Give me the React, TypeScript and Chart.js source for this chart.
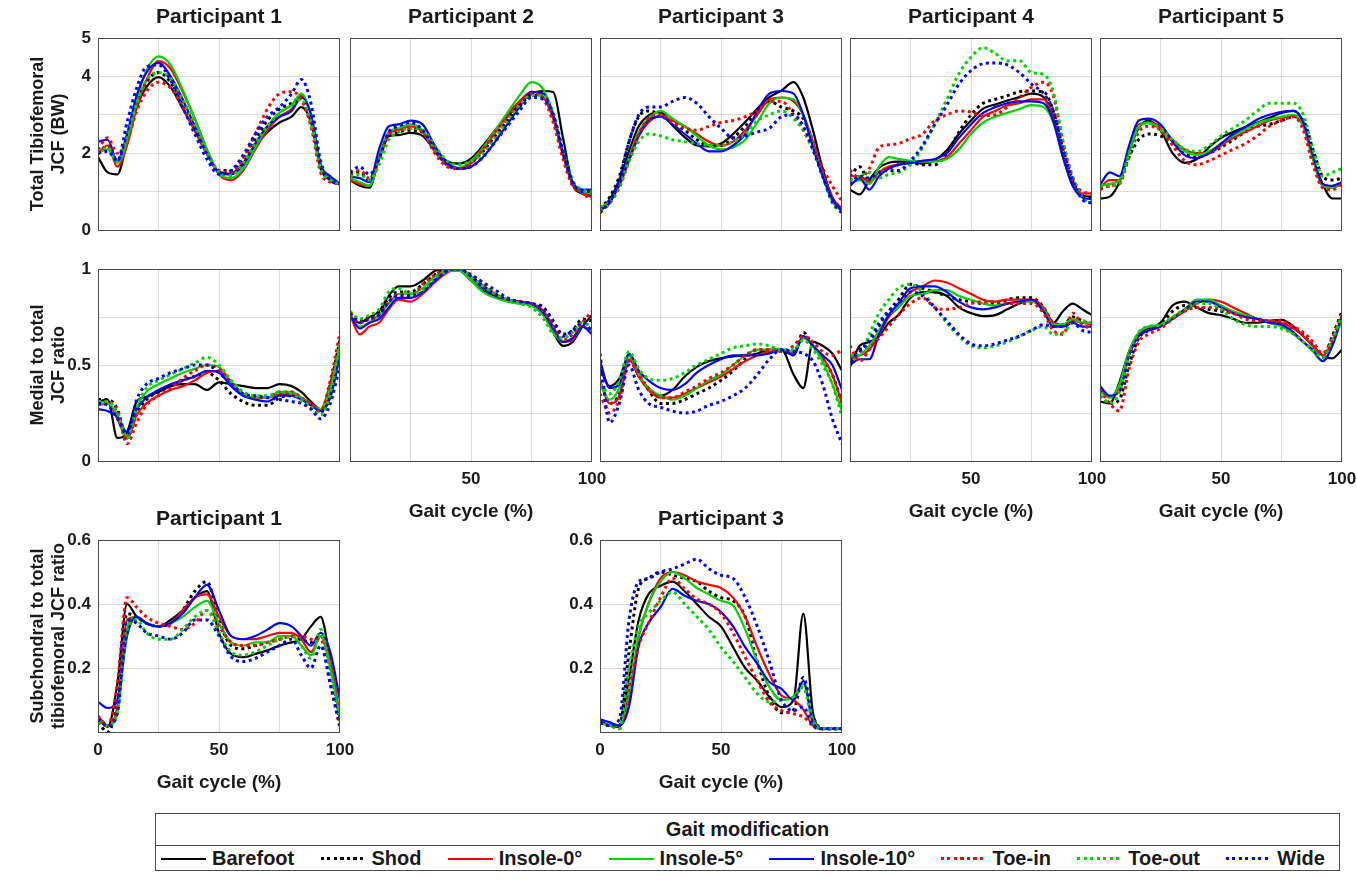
import React, { useEffect, useRef } from 'react';
import { Chart, registerables } from 'chart.js';

Chart.register(...registerables);

// ---------------- data ----------------
const GAIT_X = [0, 4, 8, 12, 16, 20, 25, 30, 35, 40, 45, 50, 55, 60, 65, 70, 75, 80, 84, 88, 92, 96, 100];

const MODS = ['Barefoot', 'Shod', 'Insole-0°', 'Insole-5°', 'Insole-10°', 'Toe-in', 'Toe-out', 'Wide'];
const MOD_COLORS = ['#000000', '#000000', '#ff0000', '#00d400', '#0000ff', '#ff0000', '#00d400', '#0000ff'];
const MOD_DOTTED = [false, true, false, false, false, true, true, true];

const PARTICIPANTS = ['Participant 1', 'Participant 2', 'Participant 3', 'Participant 4', 'Participant 5'];

const TOTAL_TICKS = [0, 2, 4, 5];
const MEDIAL_TICKS = [0, 0.5, 1];
const SUB_TICKS = [0.2, 0.4, 0.6];
const ROW2_X_TICKS = [50, 100];
const ROW3_X_TICKS = [0, 50, 100];

// Total tibiofemoral JCF (BW) — rows in MODS order
const TOTAL_P1 = [
  [1.9, 1.5, 1.45, 2.3, 3.2, 3.72, 3.98, 3.72, 3.16, 2.6, 2.0, 1.52, 1.47, 1.75, 2.2, 2.55, 2.8, 2.95, 3.2, 2.8, 1.6, 1.3, 1.2],
  [2.0, 2.2, 1.8, 2.4, 3.3, 3.85, 4.1, 3.85, 3.3, 2.7, 2.05, 1.55, 1.55, 1.85, 2.35, 2.85, 3.15, 3.3, 3.45, 2.9, 1.65, 1.3, 1.2],
  [2.0, 2.2, 1.65, 2.2, 3.2, 3.9, 4.4, 4.2, 3.6, 2.9, 2.1, 1.45, 1.3, 1.55, 2.1, 2.6, 2.95, 3.15, 3.5, 3.0, 1.7, 1.35, 1.2],
  [2.0, 2.1, 1.75, 2.3, 3.4, 4.15, 4.52, 4.3, 3.65, 2.9, 2.1, 1.45, 1.35, 1.6, 2.15, 2.7, 3.05, 3.25, 3.55, 3.0, 1.7, 1.35, 1.2],
  [2.3, 2.35, 1.8, 2.5, 3.5, 4.1, 4.35, 4.0, 3.4, 2.7, 2.0, 1.5, 1.45, 1.7, 2.25, 2.7, 2.95, 3.1, 3.45, 3.0, 1.7, 1.4, 1.2],
  [2.1, 2.4, 2.0, 2.3, 3.1, 3.6, 3.85, 3.7, 3.2, 2.6, 2.0, 1.55, 1.5, 1.85, 2.5, 3.15, 3.55, 3.6, 3.4, 2.7, 1.5, 1.25, 1.2],
  [2.0, 2.15, 1.8, 2.4, 3.3, 3.9, 4.1, 3.95, 3.4, 2.75, 2.05, 1.5, 1.42, 1.75, 2.25, 2.7, 3.05, 3.25, 3.4, 2.8, 1.6, 1.3, 1.2],
  [2.0, 2.05, 1.8, 2.8, 3.7, 4.25, 4.3, 3.9, 3.2, 2.5, 1.85, 1.45, 1.55, 1.95, 2.5, 2.95, 3.2, 3.55, 3.92, 3.3, 1.8, 1.3, 1.2],
];
const TOTAL_P2 = [
  [1.3, 1.15, 1.1, 1.85, 2.44, 2.47, 2.53, 2.45, 2.08, 1.8, 1.73, 1.86, 2.2, 2.6, 2.96, 3.27, 3.55, 3.62, 3.59, 2.4, 1.2, 0.95, 0.89],
  [1.45, 1.5, 1.3, 1.9, 2.45, 2.55, 2.6, 2.55, 2.15, 1.75, 1.6, 1.75, 2.05, 2.45, 2.85, 3.2, 3.5, 3.45, 2.95, 2.0, 1.2, 0.95, 0.9],
  [1.3, 1.2, 1.15, 1.85, 2.5, 2.6, 2.7, 2.55, 2.05, 1.7, 1.6, 1.75, 2.1, 2.55, 3.0, 3.35, 3.6, 3.45, 2.9, 1.95, 1.2, 0.95, 0.85],
  [1.35, 1.25, 1.15, 1.9, 2.55, 2.65, 2.75, 2.6, 2.1, 1.75, 1.62, 1.8, 2.15, 2.6, 3.05, 3.5, 3.85, 3.65, 3.0, 2.0, 1.25, 1.0, 0.95],
  [1.4, 1.35, 1.25, 2.1, 2.7, 2.75, 2.85, 2.75, 2.2, 1.75, 1.6, 1.65, 1.9, 2.3, 2.75, 3.2, 3.6, 3.55, 3.0, 2.0, 1.25, 1.05, 1.05],
  [1.5, 1.55, 1.35, 1.85, 2.5, 2.6, 2.65, 2.55, 2.0, 1.65, 1.6, 1.75, 2.1, 2.55, 2.95, 3.3, 3.55, 3.4, 2.8, 1.85, 1.15, 0.95, 0.8],
  [1.4, 1.45, 1.3, 1.7, 2.35, 2.55, 2.65, 2.6, 2.2, 1.8, 1.7, 1.8, 2.0, 2.4, 2.85, 3.25, 3.5, 3.5, 3.05, 2.1, 1.3, 1.05, 1.0],
  [1.5, 1.65, 1.45, 1.85, 2.55, 2.7, 2.8, 2.6, 2.1, 1.7, 1.6, 1.65, 1.9, 2.3, 2.7, 3.1, 3.45, 3.4, 3.0, 2.05, 1.25, 1.0, 1.0],
];
const TOTAL_P3 = [
  [0.52, 0.8, 1.3, 2.05, 2.7, 2.98, 3.07, 2.72, 2.42, 2.2, 2.18, 2.25, 2.5, 2.81, 3.16, 3.46, 3.63, 3.85, 3.45, 2.6, 1.6, 0.85, 0.5],
  [0.55, 0.85, 1.4, 2.3, 2.95, 3.1, 3.0, 2.8, 2.6, 2.35, 2.2, 2.2, 2.4, 2.7, 3.1, 3.35, 3.2, 3.1, 2.9, 2.3, 1.5, 0.8, 0.5],
  [0.5, 0.75, 1.15, 1.8, 2.45, 2.8, 2.98, 2.85, 2.7, 2.5, 2.3, 2.2, 2.3, 2.6, 3.0, 3.4, 3.45, 3.35, 3.0, 2.3, 1.5, 0.85, 0.55],
  [0.6, 0.75, 1.2, 1.9, 2.55, 2.9, 3.1, 2.9, 2.7, 2.45, 2.2, 2.1, 2.15, 2.35, 2.8, 3.3, 3.45, 3.4, 3.0, 2.2, 1.4, 0.75, 0.5],
  [0.5, 0.7, 1.2, 1.85, 2.45, 2.85, 2.95, 2.75, 2.5, 2.25, 2.05, 2.05, 2.2, 2.5, 3.1, 3.55, 3.62, 3.55, 3.0, 2.15, 1.4, 0.8, 0.5],
  [0.5, 0.7, 1.1, 1.8, 2.5, 2.9, 3.0, 2.8, 2.65, 2.6, 2.7, 2.8, 2.85, 2.95, 3.1, 3.35, 3.35, 3.0, 2.6, 2.1, 1.6, 1.15, 0.75],
  [0.5, 0.7, 1.15, 1.8, 2.3, 2.5, 2.45, 2.35, 2.3, 2.25, 2.2, 2.2, 2.3, 2.5, 2.85, 3.0, 3.1, 2.9, 2.6, 2.1, 1.4, 0.7, 0.45],
  [0.45, 0.75, 1.3, 2.3, 3.0, 3.2, 3.2, 3.35, 3.45, 3.3, 2.95, 2.65, 2.4, 2.45, 2.55, 2.65, 2.95, 3.0, 2.7, 2.1, 1.4, 0.75, 0.45],
];
const TOTAL_P4 = [
  [1.05, 0.93, 1.3, 1.62, 1.75, 1.78, 1.78, 1.73, 1.82, 2.08, 2.5, 2.85, 3.16, 3.27, 3.37, 3.46, 3.55, 3.46, 2.9, 1.9, 1.25, 0.9, 0.87],
  [1.4, 1.65, 1.25, 1.5, 1.6, 1.7, 1.75, 1.7, 1.7, 2.0, 2.55, 3.0, 3.3, 3.4, 3.5, 3.6, 3.62, 3.6, 3.1, 2.1, 1.3, 0.9, 0.85],
  [1.4, 1.4, 1.25, 1.5, 1.65, 1.7, 1.75, 1.8, 1.8, 1.9, 2.25, 2.6, 2.95, 3.1, 3.25, 3.3, 3.4, 3.4, 2.9, 1.95, 1.2, 0.95, 0.95],
  [1.2, 1.3, 1.2, 1.65, 1.9, 1.85, 1.8, 1.78, 1.78, 1.85, 2.1, 2.5, 2.8, 2.95, 3.05, 3.15, 3.25, 3.2, 2.8, 1.9, 1.15, 0.85, 0.8],
  [1.15, 1.35, 1.05, 1.4, 1.6, 1.7, 1.75, 1.8, 1.85, 2.0, 2.4, 2.75, 3.05, 3.2, 3.3, 3.35, 3.35, 3.3, 2.85, 1.9, 1.15, 0.85, 0.8],
  [1.56, 1.35, 1.6, 2.15, 2.22, 2.25, 2.38, 2.5, 2.85, 3.0, 3.1, 3.07, 2.98, 3.0, 3.2, 3.45, 3.72, 3.85, 3.5, 2.3, 1.35, 1.0, 0.95],
  [1.3, 1.4, 1.5, 1.35, 1.45, 1.5, 1.7, 2.15, 2.75, 3.4, 4.07, 4.5, 4.75, 4.6, 4.4, 4.41, 4.1, 4.05, 3.6, 2.3, 1.4, 0.85, 0.7],
  [1.2, 1.4, 1.35, 1.5, 1.55, 1.55, 1.8, 2.2, 2.75, 3.25, 3.8, 4.15, 4.33, 4.35, 4.3, 4.1, 3.8, 3.55, 3.1, 2.1, 1.3, 0.8, 0.7],
];
const TOTAL_P5 = [
  [0.82, 0.87, 1.25, 2.05, 2.65, 2.85, 2.6, 2.0, 1.75, 1.85, 2.15, 2.4, 2.55, 2.68, 2.8, 2.92, 3.05, 3.1, 2.8, 1.9, 1.2, 0.82, 0.82],
  [1.1, 1.15, 1.25, 1.9, 2.35, 2.5, 2.45, 2.25, 2.0, 1.9, 2.0, 2.15, 2.35, 2.55, 2.7, 2.75, 2.85, 2.95, 2.85, 2.1, 1.4, 1.3, 1.35],
  [1.1, 1.3, 1.3, 2.1, 2.75, 2.8, 2.7, 2.35, 2.1, 2.0, 2.0, 2.2, 2.4, 2.55, 2.7, 2.85, 2.92, 2.98, 2.7, 1.85, 1.15, 1.1, 1.2],
  [1.15, 1.2, 1.3, 2.05, 2.7, 2.8, 2.6, 2.3, 2.05, 1.95, 2.05, 2.25, 2.45, 2.62, 2.78, 2.88, 2.95, 3.0, 2.7, 1.85, 1.15, 1.1, 1.25],
  [1.17, 1.5, 1.4, 2.2, 2.85, 2.9, 2.75, 2.3, 1.95, 1.87, 2.0, 2.25, 2.5, 2.68, 2.88, 3.0, 3.08, 3.1, 2.8, 1.95, 1.2, 1.15, 1.25],
  [1.05, 1.15, 1.2, 1.9, 2.55, 2.7, 2.6, 2.2, 1.8, 1.7, 1.8, 1.95, 2.1, 2.25, 2.45, 2.7, 2.85, 2.95, 2.6, 1.7, 1.1, 1.05, 1.2],
  [1.15, 1.15, 1.2, 2.0, 2.65, 2.78, 2.65, 2.35, 2.1, 2.05, 2.2, 2.45, 2.65, 2.85, 3.1, 3.3, 3.3, 3.3, 3.0, 2.1, 1.4, 1.5, 1.6],
  null,
];

// Medial to total JCF ratio
const MEDIAL_P1 = [
  [0.31, 0.32, 0.12, 0.15, 0.31, 0.335, 0.36, 0.39, 0.4, 0.4, 0.37, 0.41, 0.4, 0.39, 0.38, 0.38, 0.4, 0.39, 0.36, 0.31, 0.27, 0.35, 0.55],
  [0.32, 0.32, 0.27, 0.12, 0.25, 0.32, 0.36, 0.39, 0.42, 0.44, 0.46, 0.42, 0.35, 0.31, 0.29, 0.29, 0.33, 0.34, 0.32, 0.28, 0.25, 0.4, 0.63],
  [0.29, 0.3, 0.22, 0.12, 0.24, 0.3, 0.34, 0.37, 0.39, 0.42, 0.46, 0.47, 0.4, 0.34, 0.33, 0.33, 0.35, 0.35, 0.33, 0.3, 0.27, 0.4, 0.6],
  [0.3, 0.3, 0.24, 0.13, 0.28, 0.36, 0.4, 0.43, 0.46, 0.48, 0.5, 0.49, 0.41, 0.35, 0.33, 0.33, 0.36, 0.36, 0.33, 0.29, 0.27, 0.38, 0.6],
  [0.27, 0.26, 0.23, 0.15, 0.27, 0.33, 0.37, 0.4, 0.42, 0.44, 0.47, 0.46, 0.39, 0.34, 0.32, 0.31, 0.34, 0.34, 0.32, 0.29, 0.26, 0.33, 0.55],
  [0.29, 0.31, 0.26, 0.09, 0.2, 0.29, 0.34, 0.38, 0.43, 0.47, 0.5, 0.48, 0.41, 0.35, 0.33, 0.33, 0.36, 0.36, 0.33, 0.29, 0.26, 0.42, 0.67],
  [0.31, 0.31, 0.25, 0.12, 0.28, 0.38, 0.42, 0.45, 0.48, 0.51, 0.54, 0.5, 0.42, 0.36, 0.34, 0.34, 0.36, 0.35, 0.32, 0.28, 0.24, 0.35, 0.62],
  [0.3, 0.29, 0.22, 0.14, 0.32, 0.4, 0.43, 0.46, 0.48, 0.5, 0.5, 0.46, 0.4, 0.35, 0.34, 0.33, 0.32, 0.31, 0.3, 0.27, 0.22, 0.3, 0.5],
];
const MEDIAL_P2 = [
  [0.75, 0.72, 0.75, 0.78, 0.86, 0.91, 0.91, 0.94, 0.99, 1.0, 0.995, 0.94, 0.885, 0.86, 0.84, 0.825, 0.81, 0.76, 0.67, 0.6, 0.62, 0.7, 0.76],
  [0.77, 0.73, 0.75, 0.77, 0.85, 0.88, 0.88, 0.92, 0.97, 1.0, 1.0, 0.96, 0.91, 0.87, 0.84, 0.83, 0.82, 0.8, 0.73, 0.66, 0.68, 0.74, 0.73],
  [0.76, 0.66, 0.7, 0.72, 0.79, 0.84, 0.83, 0.87, 0.93, 0.98, 1.0, 0.96, 0.9, 0.86, 0.84, 0.83, 0.82, 0.78, 0.7, 0.62, 0.63, 0.7, 0.68],
  [0.75, 0.7, 0.72, 0.76, 0.82, 0.87, 0.87, 0.9, 0.96, 0.99, 0.99, 0.94, 0.88, 0.85, 0.83, 0.82, 0.81, 0.76, 0.67, 0.62, 0.64, 0.7, 0.67],
  [0.76, 0.69, 0.72, 0.74, 0.8, 0.85, 0.85, 0.88, 0.94, 0.99, 1.0, 0.96, 0.9, 0.86, 0.84, 0.83, 0.82, 0.77, 0.69, 0.62, 0.64, 0.7, 0.66],
  [0.76, 0.72, 0.74, 0.76, 0.83, 0.87, 0.86, 0.92, 0.97, 1.0, 1.0, 0.97, 0.92, 0.87, 0.84, 0.83, 0.82, 0.78, 0.7, 0.63, 0.66, 0.72, 0.78],
  [0.78, 0.74, 0.76, 0.79, 0.88, 0.9, 0.87, 0.89, 0.95, 0.99, 1.0, 0.96, 0.91, 0.87, 0.84, 0.82, 0.8, 0.74, 0.66, 0.64, 0.67, 0.72, 0.7],
  [0.77, 0.72, 0.74, 0.76, 0.83, 0.86, 0.86, 0.88, 0.94, 0.99, 1.0, 0.97, 0.93, 0.89, 0.85, 0.83, 0.82, 0.79, 0.72, 0.65, 0.68, 0.72, 0.68],
];
const MEDIAL_P3 = [
  [0.48, 0.39, 0.43, 0.55, 0.44, 0.38, 0.34, 0.37, 0.44, 0.49, 0.52, 0.535, 0.545, 0.55, 0.56, 0.58, 0.58, 0.45, 0.38, 0.62, 0.6, 0.56, 0.47],
  [0.42, 0.3, 0.35, 0.53, 0.45, 0.37, 0.3, 0.3, 0.32, 0.35, 0.38, 0.42, 0.47, 0.53, 0.58, 0.58, 0.57, 0.56, 0.67, 0.6, 0.53, 0.45, 0.3],
  [0.42, 0.3, 0.34, 0.53, 0.44, 0.37, 0.33, 0.33, 0.35, 0.38, 0.41, 0.44, 0.48, 0.52, 0.55, 0.57, 0.58, 0.56, 0.65, 0.6, 0.54, 0.45, 0.3],
  [0.4, 0.32, 0.38, 0.55, 0.45, 0.38, 0.34, 0.32, 0.34, 0.38, 0.42, 0.45, 0.5, 0.55, 0.58, 0.58, 0.58, 0.57, 0.64, 0.6, 0.52, 0.4, 0.26],
  [0.52, 0.38, 0.4, 0.56, 0.47, 0.42, 0.38, 0.37, 0.4, 0.46, 0.5, 0.53, 0.55, 0.55, 0.55, 0.56, 0.58, 0.55, 0.65, 0.6, 0.55, 0.5, 0.37],
  [0.35, 0.25, 0.32, 0.52, 0.45, 0.38, 0.33, 0.33, 0.36, 0.39, 0.43, 0.46, 0.5, 0.55, 0.58, 0.58, 0.57, 0.6, 0.65, 0.62, 0.57, 0.55, 0.58],
  [0.4, 0.35, 0.42, 0.57, 0.48, 0.43, 0.42, 0.43, 0.46, 0.5, 0.53, 0.56, 0.59, 0.6, 0.61, 0.6, 0.58, 0.58, 0.63, 0.58, 0.5, 0.4, 0.23],
  [0.56, 0.2, 0.3, 0.5, 0.37, 0.3, 0.28, 0.26, 0.25, 0.26, 0.29, 0.31, 0.34, 0.38, 0.45, 0.53, 0.58, 0.57, 0.56, 0.52, 0.4, 0.22, 0.09],
];
const MEDIAL_P4 = [
  [0.49, 0.6, 0.62, 0.65, 0.72, 0.76, 0.85, 0.88, 0.88, 0.86, 0.8, 0.77, 0.755, 0.76, 0.79, 0.82, 0.84, 0.78, 0.72, 0.78, 0.82, 0.79, 0.76],
  [0.53, 0.58, 0.6, 0.7, 0.78, 0.84, 0.92, 0.9, 0.88, 0.86, 0.84, 0.83, 0.82, 0.82, 0.84, 0.85, 0.85, 0.8, 0.72, 0.71, 0.75, 0.73, 0.71],
  [0.54, 0.55, 0.58, 0.66, 0.75, 0.8, 0.88, 0.91, 0.94, 0.93, 0.9, 0.87, 0.84, 0.83, 0.84, 0.84, 0.84, 0.8, 0.72, 0.71, 0.73, 0.72, 0.71],
  [0.52, 0.55, 0.6, 0.68, 0.76, 0.8, 0.86, 0.87, 0.89, 0.89, 0.86, 0.84, 0.82, 0.81, 0.82, 0.83, 0.83, 0.79, 0.71, 0.71, 0.74, 0.72, 0.72],
  [0.5, 0.53, 0.53, 0.66, 0.76, 0.82, 0.9, 0.91, 0.91, 0.88, 0.83, 0.8, 0.79, 0.8, 0.82, 0.83, 0.84, 0.78, 0.7, 0.7, 0.72, 0.7, 0.7],
  [0.6, 0.52, 0.58, 0.64, 0.7, 0.76, 0.82, 0.85, 0.8, 0.79, 0.8, 0.82, 0.83, 0.83, 0.82, 0.82, 0.82, 0.77, 0.68, 0.66, 0.77, 0.71, 0.69],
  [0.55, 0.55, 0.66, 0.77, 0.84, 0.9, 0.92, 0.88, 0.8, 0.72, 0.65, 0.6, 0.59, 0.6, 0.62, 0.65, 0.68, 0.7, 0.66, 0.67, 0.72, 0.73, 0.72],
  [0.52, 0.57, 0.63, 0.72, 0.78, 0.82, 0.88, 0.86, 0.8, 0.73, 0.66, 0.61, 0.6, 0.61, 0.63, 0.65, 0.68, 0.71, 0.7, 0.7, 0.72, 0.68, 0.67],
];
const MEDIAL_P5 = [
  [0.31, 0.3, 0.41, 0.57, 0.66, 0.69, 0.72, 0.81, 0.83, 0.8, 0.77, 0.76, 0.74, 0.72, 0.72, 0.73, 0.735, 0.7, 0.65, 0.6, 0.55, 0.535, 0.58],
  [0.34, 0.3, 0.32, 0.5, 0.64, 0.68, 0.71, 0.78, 0.81, 0.8, 0.79, 0.78, 0.77, 0.75, 0.74, 0.73, 0.72, 0.69, 0.66, 0.6, 0.54, 0.65, 0.78],
  [0.38, 0.33, 0.38, 0.55, 0.65, 0.68, 0.7, 0.74, 0.78, 0.82, 0.84, 0.83, 0.8, 0.77, 0.74, 0.73, 0.72, 0.69, 0.65, 0.6, 0.55, 0.62, 0.75],
  [0.36, 0.33, 0.4, 0.57, 0.67, 0.7, 0.71, 0.75, 0.79, 0.84, 0.84, 0.81, 0.78, 0.76, 0.74, 0.72, 0.7, 0.66, 0.62, 0.57, 0.52, 0.6, 0.74],
  [0.39, 0.34, 0.36, 0.55, 0.65, 0.68, 0.7, 0.74, 0.79, 0.83, 0.83, 0.8, 0.77, 0.75, 0.74, 0.72, 0.71, 0.67, 0.62, 0.58, 0.52, 0.6, 0.76],
  [0.37, 0.3, 0.26, 0.48, 0.62, 0.66, 0.69, 0.74, 0.78, 0.8, 0.8, 0.79, 0.77, 0.74, 0.73, 0.73, 0.73, 0.7, 0.67, 0.62, 0.56, 0.64, 0.76],
  [0.34, 0.3, 0.36, 0.56, 0.67, 0.7, 0.71, 0.75, 0.79, 0.82, 0.82, 0.79, 0.74, 0.71, 0.7, 0.7, 0.69, 0.66, 0.62, 0.58, 0.54, 0.63, 0.76],
  null,
];

// Subchondral to total tibiofemoral JCF ratio
const SUB_P1 = [
  [0.04, 0.016, 0.15, 0.4, 0.36, 0.34, 0.33, 0.35, 0.38, 0.42, 0.44, 0.31, 0.244, 0.234, 0.244, 0.255, 0.27, 0.28, 0.29, 0.33, 0.36, 0.22, 0.04],
  [0.03, 0.0, 0.1, 0.37, 0.36, 0.34, 0.33, 0.34, 0.38, 0.44, 0.47, 0.35, 0.27, 0.26, 0.27, 0.28, 0.29, 0.3, 0.29, 0.28, 0.3, 0.2, 0.03],
  [0.05, 0.02, 0.08, 0.35, 0.36, 0.34, 0.33, 0.34, 0.38, 0.42, 0.43, 0.36, 0.3, 0.29, 0.29, 0.3, 0.31, 0.31, 0.29, 0.25, 0.3, 0.22, 0.05],
  [0.04, 0.02, 0.06, 0.32, 0.36, 0.34, 0.33, 0.34, 0.36, 0.39, 0.41, 0.34, 0.28, 0.27, 0.28, 0.28, 0.3, 0.3, 0.27, 0.24, 0.3, 0.2, 0.04],
  [0.094, 0.075, 0.1, 0.3, 0.36, 0.34, 0.33, 0.34, 0.37, 0.42, 0.46, 0.38, 0.3, 0.29, 0.3, 0.32, 0.34, 0.33, 0.3, 0.27, 0.31, 0.25, 0.1],
  [0.05, 0.02, 0.15, 0.42, 0.39, 0.36, 0.34, 0.33, 0.32, 0.34, 0.38, 0.33, 0.28, 0.27, 0.27, 0.28, 0.29, 0.3, 0.3, 0.29, 0.29, 0.15, 0.01],
  [0.03, 0.02, 0.06, 0.32, 0.35, 0.31, 0.29, 0.29, 0.32, 0.36, 0.38, 0.31, 0.25, 0.24, 0.25, 0.27, 0.29, 0.3, 0.27, 0.23, 0.32, 0.18, 0.02],
  [0.04, 0.02, 0.06, 0.35, 0.34, 0.31, 0.3, 0.29, 0.31, 0.35, 0.35, 0.3, 0.235, 0.22, 0.23, 0.25, 0.27, 0.29, 0.24, 0.2, 0.27, 0.15, 0.02],
];
const SUB_P3 = [
  [0.036, 0.02, 0.016, 0.17, 0.35, 0.43, 0.457, 0.47, 0.44, 0.4, 0.36, 0.33, 0.265, 0.2, 0.16, 0.11, 0.078, 0.1, 0.37, 0.06, 0.01, 0.01, 0.01],
  [0.03, 0.02, 0.02, 0.25, 0.45, 0.48, 0.5, 0.49, 0.48, 0.47, 0.44, 0.42, 0.41, 0.36, 0.22, 0.11, 0.06, 0.07, 0.17, 0.05, 0.01, 0.01, 0.01],
  [0.03, 0.02, 0.02, 0.1, 0.3, 0.4, 0.48, 0.5, 0.49, 0.47, 0.46, 0.45, 0.42, 0.36, 0.265, 0.18, 0.114, 0.1, 0.07, 0.02, 0.01, 0.01, 0.01],
  [0.03, 0.02, 0.02, 0.12, 0.3, 0.4, 0.47, 0.5, 0.48, 0.45, 0.43, 0.41, 0.395, 0.32, 0.22, 0.14, 0.1, 0.11, 0.15, 0.04, 0.01, 0.01, 0.01],
  [0.04, 0.03, 0.02, 0.08, 0.27, 0.34, 0.39, 0.447, 0.426, 0.41, 0.4, 0.375, 0.33, 0.265, 0.213, 0.156, 0.135, 0.1, 0.16, 0.03, 0.01, 0.01, 0.01],
  [0.03, 0.02, 0.01, 0.14, 0.27, 0.34, 0.42, 0.48, 0.447, 0.416, 0.4, 0.37, 0.31, 0.234, 0.16, 0.094, 0.067, 0.057, 0.047, 0.02, 0.01, 0.01, 0.01],
  [0.03, 0.02, 0.01, 0.2, 0.33, 0.37, 0.41, 0.437, 0.4, 0.36, 0.32, 0.265, 0.22, 0.17, 0.12, 0.094, 0.1, 0.11, 0.14, 0.03, 0.01, 0.01, 0.01],
  [0.03, 0.02, 0.04, 0.35, 0.47, 0.48, 0.5, 0.51, 0.525, 0.54, 0.51, 0.49, 0.48, 0.42, 0.33, 0.22, 0.1, 0.067, 0.078, 0.02, 0.01, 0.01, 0.01],
];

// ---------------- layout / style ----------------
const FONT = '"Liberation Sans", Arial, Helvetica, sans-serif';
const TEXT = '#1a1a1a';
const GRID = 'rgba(0,0,0,0.14)';
const FRAME = '#4a4a4a';

const PLOT_W = 242;
const PLOT_H = 192;
const Y_AXIS_W = 71;
const TOP_PAD = 26;
const RIGHT_PAD = 26;
const X_H_EMPTY = 26;
const X_H_LABELS = 62;
const COL_LEFT = [98, 350, 600, 850, 1100];
const ROW_TOP = [38, 269, 540];

type YSpec = { min: number; max: number; step: number; shown: number[]; title: string[] };
const Y_TOTAL: YSpec = { min: 0, max: 5, step: 1, shown: TOTAL_TICKS, title: ['Total Tibiofemoral', 'JCF (BW)'] };
const Y_MEDIAL: YSpec = { min: 0, max: 1, step: 0.25, shown: MEDIAL_TICKS, title: ['Medial to total', 'JCF ratio'] };
const Y_SUB: YSpec = { min: 0, max: 0.6, step: 0.2, shown: SUB_TICKS, title: ['Subchondral to total', 'tibiofemoral JCF ratio'] };

type PanelSpec = {
  key: string;
  left: number;
  top: number;
  data: (number[] | null)[];
  y: YSpec;
  yTicks: boolean;
  yTitle: boolean;
  xTicks: number[] | null;
  title?: string;
};

const PANELS: PanelSpec[] = [];
[TOTAL_P1, TOTAL_P2, TOTAL_P3, TOTAL_P4, TOTAL_P5].forEach((d, i) =>
  PANELS.push({ key: 't' + i, left: COL_LEFT[i], top: ROW_TOP[0], data: d, y: Y_TOTAL, yTicks: i === 0, yTitle: i === 0, xTicks: null, title: PARTICIPANTS[i] })
);
[MEDIAL_P1, MEDIAL_P2, MEDIAL_P3, MEDIAL_P4, MEDIAL_P5].forEach((d, i) =>
  PANELS.push({ key: 'm' + i, left: COL_LEFT[i], top: ROW_TOP[1], data: d, y: Y_MEDIAL, yTicks: i === 0, yTitle: i === 0, xTicks: i === 0 || i === 2 ? null : ROW2_X_TICKS })
);
PANELS.push({ key: 's0', left: COL_LEFT[0], top: ROW_TOP[2], data: SUB_P1, y: Y_SUB, yTicks: true, yTitle: true, xTicks: ROW3_X_TICKS, title: PARTICIPANTS[0] });
PANELS.push({ key: 's2', left: COL_LEFT[2], top: ROW_TOP[2], data: SUB_P3, y: Y_SUB, yTicks: true, yTitle: false, xTicks: ROW3_X_TICKS, title: PARTICIPANTS[2] });

const near = (list: number[], v: number) => list.some((s) => Math.abs(s - v) < 1e-6);
const r2 = (v: number) => Math.round(v * 100) / 100;

const framePlugin = {
  id: 'frame',
  afterDraw(chart: any) {
    const { ctx, chartArea } = chart;
    const { left, top, right, bottom } = chartArea;
    ctx.save();
    ctx.strokeStyle = FRAME;
    ctx.lineWidth = 1;
    ctx.strokeRect(Math.round(left) + 0.5, Math.round(top) + 0.5, Math.round(right - left) - 1, Math.round(bottom - top));
    ctx.restore();
  },
};

function Panel({ spec }: { spec: PanelSpec }) {
  const ref = useRef<HTMLCanvasElement | null>(null);
  const xH = spec.xTicks ? X_H_LABELS : X_H_EMPTY;
  const W = Y_AXIS_W + PLOT_W + RIGHT_PAD;
  const H = TOP_PAD + PLOT_H + xH;

  useEffect(() => {
    if (!ref.current) return;
    const datasets: any[] = [];
    spec.data.forEach((series, i) => {
      if (!series) return;
      const dotted = MOD_DOTTED[i];
      datasets.push({
        label: MODS[i],
        data: GAIT_X.map((x, j) => ({ x, y: series[j] })),
        borderColor: MOD_COLORS[i],
        backgroundColor: MOD_COLORS[i],
        borderWidth: dotted ? 3 : 2.2,
        borderDash: dotted ? [3, 3.5] : [],
        borderCapStyle: 'butt',
        pointRadius: 0,
        fill: false,
        cubicInterpolationMode: 'monotone',
        order: 8 - i,
      });
    });
    const ys = spec.y;
    const chart = new Chart(ref.current, {
      type: 'line',
      data: { datasets },
      plugins: [framePlugin],
      options: {
        animation: false,
        responsive: false,
        maintainAspectRatio: false,
        events: [],
        layout: { padding: { left: 0, right: RIGHT_PAD, top: TOP_PAD, bottom: 0 } },
        plugins: { legend: { display: false }, tooltip: { enabled: false }, title: { display: false } },
        scales: {
          x: {
            type: 'linear',
            min: 0,
            max: 100,
            afterFit: (s: any) => {
              s.height = xH;
            },
            grid: {
              drawTicks: false,
              lineWidth: 1,
              color: (c: any) => (c.tick && (c.tick.value === 0 || c.tick.value === 100) ? 'rgba(0,0,0,0)' : GRID),
            },
            border: { display: false },
            ticks: {
              stepSize: 25,
              display: !!spec.xTicks,
              autoSkip: false,
              maxRotation: 0,
              padding: 8,
              color: TEXT,
              font: { family: FONT, size: 17, weight: 'bold' },
              callback: (v: any) => (spec.xTicks && near(spec.xTicks, Number(v)) ? String(v) : ''),
            },
            title: {
              display: !!spec.xTicks,
              text: 'Gait cycle (%)',
              color: TEXT,
              padding: 0,
              font: { family: FONT, size: 19, weight: 'bold' },
            },
          },
          y: {
            type: 'linear',
            min: ys.min,
            max: ys.max,
            afterFit: (s: any) => {
              s.width = Y_AXIS_W;
            },
            grid: {
              drawTicks: false,
              lineWidth: 1,
              color: (c: any) => (c.tick && (r2(c.tick.value) === ys.min || r2(c.tick.value) === ys.max) ? 'rgba(0,0,0,0)' : GRID),
            },
            border: { display: false },
            ticks: {
              stepSize: ys.step,
              display: spec.yTicks,
              autoSkip: false,
              padding: 7,
              color: TEXT,
              font: { family: FONT, size: 17, weight: 'bold' },
              callback: (v: any) => (near(ys.shown, r2(Number(v))) ? String(r2(Number(v))) : ''),
            },
            title: {
              display: spec.yTitle,
              text: ys.title,
              color: TEXT,
              padding: 0,
              font: { family: FONT, size: 18, weight: 'bold' },
            },
          },
        },
      } as any,
    });
    return () => chart.destroy();
  }, []);

  return (
    <canvas
      ref={ref}
      width={W}
      height={H}
      style={{ position: 'absolute', left: spec.left - Y_AXIS_W, top: spec.top - TOP_PAD, width: W, height: H }}
    />
  );
}

function DashSample({ color, dotted }: { color: string; dotted: boolean }) {
  const style: React.CSSProperties = dotted
    ? { width: 45, height: 3, background: `repeating-linear-gradient(90deg, ${color} 0px, ${color} 3px, transparent 3px, transparent 6.5px)` }
    : { width: 45, height: 2, background: color };
  return <span style={{ display: 'inline-block', marginRight: 6, ...style }} />;
}

export default function App() {
  return (
    <div style={{ position: 'absolute', left: 0, top: 0, width: 1357, height: 889, background: '#ffffff', fontFamily: FONT, color: TEXT }}>
      {PANELS.map((p) => (
        <Panel key={p.key} spec={p} />
      ))}
      {PANELS.filter((p) => p.title).map((p) => (
        <div
          key={'title-' + p.key}
          style={{
            position: 'absolute',
            left: p.left - 20,
            width: PLOT_W + 40,
            top: p.top - 34,
            height: 24,
            lineHeight: '24px',
            textAlign: 'center',
            fontWeight: 'bold',
            fontSize: 21,
          }}
        >
          {p.title}
        </div>
      ))}
      <div
        style={{
          position: 'absolute',
          left: 155,
          top: 813,
          width: 1185,
          height: 58,
          border: `1px solid ${FRAME}`,
          boxSizing: 'border-box',
          fontWeight: 'bold',
          fontSize: 20,
        }}
      >
        <div style={{ height: 31, lineHeight: '31px', textAlign: 'center', borderBottom: `1px solid ${FRAME}` }}>Gait modification</div>
        <div style={{ display: 'flex', alignItems: 'center', justifyContent: 'space-between', height: 25, padding: '0 14px 0 5px' }}>
          {MODS.map((m, i) => (
            <div key={m} style={{ display: 'flex', alignItems: 'center', whiteSpace: 'nowrap' }}>
              <DashSample color={MOD_COLORS[i]} dotted={MOD_DOTTED[i]} />
              <span>{m}</span>
            </div>
          ))}
        </div>
      </div>
    </div>
  );
}
